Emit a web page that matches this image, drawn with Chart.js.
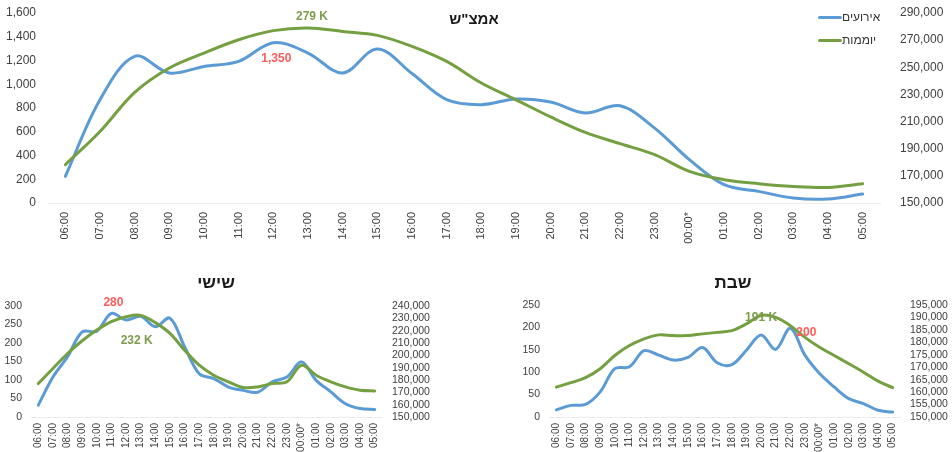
<!DOCTYPE html>
<html>
<head>
<meta charset="utf-8">
<script src="https://cdn.jsdelivr.net/npm/chart.js@4.4.1/dist/chart.umd.min.js"></script>
<style>
body { margin: 0; width: 952px; height: 452px; overflow: hidden; background: #fff; position: relative; font-family: "Liberation Sans", Arial, "DejaVu Sans", sans-serif; }
canvas { position: absolute; }
.ttl { position: absolute; font-weight: bold; color: #1a1a1a; transform: translate(-50%, -50%); white-space: nowrap; }
.leg { position: absolute; left: 818px; height: 16px; line-height: 16px; font-size: 12px; color: #333; white-space: nowrap; }
.leg span { display: inline-block; width: 24px; height: 3px; vertical-align: middle; border-radius: 2px; }
</style>
</head>
<body>

<canvas id="midweek" width="952" height="260" style="left:0;top:0"></canvas>
<canvas id="friday" width="476" height="200" style="left:0;top:270px"></canvas>
<canvas id="saturday" width="476" height="200" style="left:476px;top:270px"></canvas>

<div class="ttl" style="left:474px;top:18px;font-size:15px">אמצ"ש</div>
<div class="ttl" style="left:216px;top:283px;font-size:17px">שישי</div>
<div class="ttl" style="left:733px;top:283px;font-size:17px">שבת</div>

<div class="leg" style="top:9px"><span style="background:#5b9bd5"></span>אירועים</div>
<div class="leg" style="top:32px"><span style="background:#75a042"></span>יוממות</div>

<script>
var hours = ['06:00', '07:00', '08:00', '09:00', '10:00', '11:00', '12:00', '13:00', '14:00', '15:00', '16:00', '17:00',
    '18:00', '19:00', '20:00', '21:00', '22:00', '23:00', '00:00*', '01:00', '02:00', '03:00', '04:00', '05:00'];

// אמצ"ש
var midweekEvents = [225, 870, 1235, 1095, 1150, 1193, 1350, 1263, 1095, 1297, 1090, 870,
    828, 876, 850, 758, 819, 631, 365, 154, 98, 42, 34, 76];
var midweekDaily = [178200, 202700, 231500, 249500, 260500, 270300, 277000, 279000, 276400, 273500, 265400, 254300,
    238400, 226000, 213400, 202000, 193700, 185600, 173300, 167200, 164200, 162200, 161500, 164200];

// שישי
var fridayEvents = [32, 108, 163, 230, 232, 280, 262, 272, 244, 267, 190, 117,
    104, 81, 72, 67, 95, 108, 149, 99, 68, 36, 23, 20];
var fridayDaily = [177100, 189300, 201500, 211800, 220500, 227300, 231300, 232400, 226500, 217800, 204200, 192000,
    183900, 178500, 173900, 174400, 177100, 178500, 192000, 183900, 178500, 174400, 171700, 171100];

// שבת
var saturdayEvents = [16, 26, 28, 56, 108, 112, 148, 138, 127, 133, 155, 121,
    117, 149, 183, 151, 198, 138, 97, 67, 41, 30, 15, 11];
var saturdayDaily = [162000, 163800, 165800, 169400, 174700, 178700, 181400, 183000, 182700, 182700, 183400, 184000,
    184700, 187400, 190800, 190000, 186700, 182000, 178000, 174700, 171400, 168000, 164400, 161800];

var BLUE = '#5b9bd5';
var GREEN = '#75a042';
var RED_LBL = '#ff5a5a';
var GREEN_LBL = '#7c9d4e';

Chart.defaults.font.family = '"Liberation Sans", Arial, "DejaVu Sans", sans-serif';
Chart.defaults.color = '#404040';

function fmt(v) {
    return Number(v).toLocaleString('en-US');
}

// text next to one point, placed from the point the chart drew
function labelPlugin(items) {
    return {
        id: 'pointLabels',
        afterDatasetsDraw: function (chart) {
            var ctx = chart.ctx;
            ctx.save();
            ctx.font = 'bold 12px "Liberation Sans", Arial, sans-serif';
            ctx.textAlign = 'center';
            ctx.textBaseline = 'middle';
            for (var i = 0; i < items.length; i++) {
                var el = chart.getDatasetMeta(items[i].ds).data[items[i].idx];
                ctx.fillStyle = items[i].color;
                ctx.fillText(items[i].text, el.x + items[i].dx, el.y + items[i].dy);
            }
            ctx.restore();
        }
    };
}

function makeChart(id, events, daily, g, items) {
    return new Chart(document.getElementById(id), {
        type: 'line',
        data: {
            labels: hours,
            datasets: [
                { label: 'אירועים', data: events, yAxisID: 'y', borderColor: BLUE, borderWidth: 3,
                  pointRadius: 0, tension: 0.35, order: 1, borderCapStyle: 'round' },
                { label: 'יוממות', data: daily, yAxisID: 'y1', borderColor: GREEN, borderWidth: 3,
                  pointRadius: 0, tension: 0.35, order: 0, borderCapStyle: 'round' }
            ]
        },
        options: {
            responsive: false,
            animation: false,
            devicePixelRatio: 1,
            layout: { padding: { top: g.top, left: 0, right: 0, bottom: 0 } },
            plugins: { legend: { display: false }, tooltip: { enabled: false } },
            scales: {
                x: {
                    offset: true,
                    grid: { display: false, drawTicks: false },
                    border: { color: '#ececec' },
                    ticks: { autoSkip: false, minRotation: 90, maxRotation: 90, padding: g.xPad, font: { size: g.xFont } },
                    afterFit: function (s) { s.height = g.xHeight; }
                },
                // gap between labels and plot comes from tickLength (tick marks hidden),
                // so ticks.padding does not push the plot top down
                y: {
                    position: 'left',
                    min: g.yMin, max: g.yMax,
                    grid: { display: false, drawTicks: true, tickLength: g.yPad },
                    border: { display: false },
                    ticks: { autoSkip: false, stepSize: g.yStep, padding: 0, font: { size: g.yFont }, callback: fmt },
                    afterFit: function (s) { s.width = g.yWidth; }
                },
                y1: {
                    position: 'right',
                    min: g.y1Min, max: g.y1Max,
                    grid: { display: false, drawTicks: true, tickLength: g.y1Pad },
                    border: { display: false },
                    ticks: { autoSkip: false, stepSize: g.y1Step, padding: 0, font: { size: g.yFont }, callback: fmt },
                    afterFit: function (s) { s.width = g.y1Width; }
                }
            }
        },
        plugins: [labelPlugin(items)]
    });
}

////////////////// Midweek //////////////////
makeChart('midweek', midweekEvents, midweekDaily, {
    top: 13, xHeight: 57, xPad: 9, xFont: 11,
    yWidth: 48, yPad: 12, yFont: 12, yMin: 0, yMax: 1600, yStep: 200,
    y1Width: 72, y1Pad: 20, y1Min: 150000, y1Max: 290000, y1Step: 20000
}, [
    { ds: 1, idx: 7, text: '279 K', color: GREEN_LBL, dx: 4, dy: -11 },
    { ds: 0, idx: 6, text: '1,350', color: RED_LBL, dx: 3, dy: 16 }
]);

////////////////// Friday //////////////////
makeChart('friday', fridayEvents, fridayDaily, {
    top: 36, xHeight: 53, xPad: 6, xFont: 10,
    yWidth: 31, yPad: 9, yFont: 10.5, yMin: 0, yMax: 300, yStep: 50,
    y1Width: 94, y1Pad: 10, y1Min: 150000, y1Max: 240000, y1Step: 10000
}, [
    { ds: 0, idx: 5, text: '280', color: RED_LBL, dx: 2, dy: -11 },
    { ds: 1, idx: 7, text: '232 K', color: GREEN_LBL, dx: -4, dy: 25 }
]);

////////////////// Saturday //////////////////
makeChart('saturday', saturdayEvents, saturdayDaily, {
    top: 35, xHeight: 53, xPad: 6, xFont: 10,
    yWidth: 73, yPad: 9, yFont: 10.5, yMin: 0, yMax: 250, yStep: 50,
    y1Width: 52, y1Pad: 10, y1Min: 150000, y1Max: 195000, y1Step: 5000
}, [
    { ds: 1, idx: 14, text: '191 K', color: GREEN_LBL, dx: 0, dy: 2 },
    { ds: 0, idx: 16, text: '200', color: RED_LBL, dx: 16, dy: 4 }
]);
</script>
</body>
</html>
